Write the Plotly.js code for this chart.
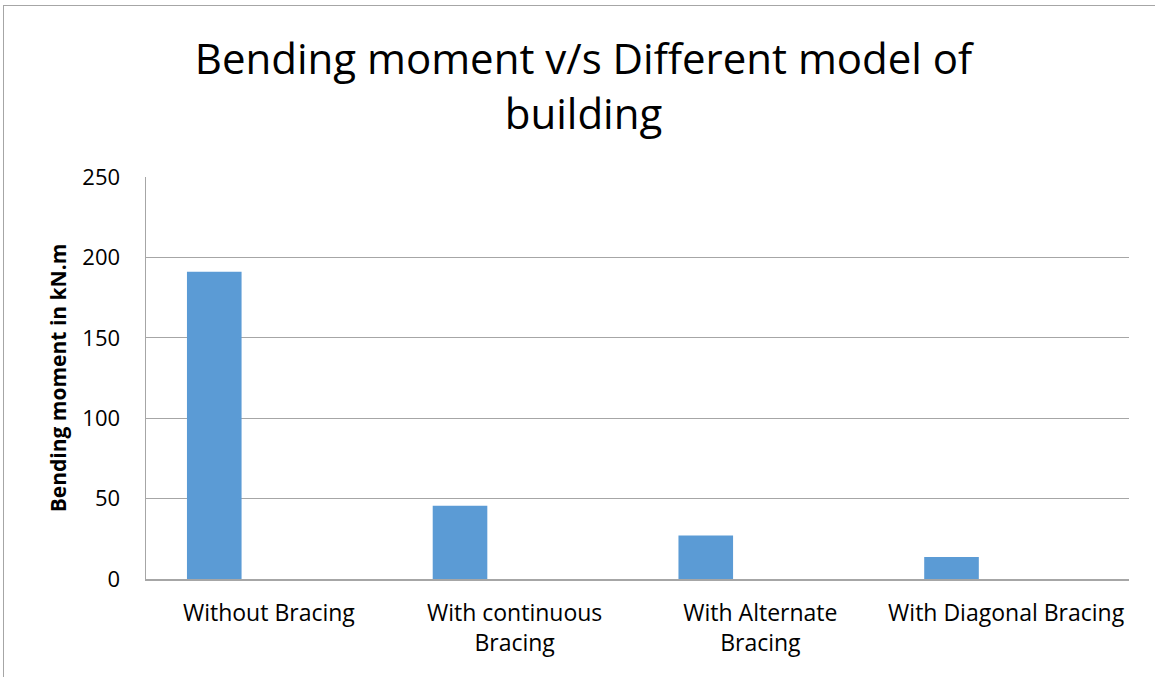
<!DOCTYPE html>
<html>
<head>
<meta charset="utf-8">
<script src="https://cdn.plot.ly/plotly-3.0.1.min.js"></script>
<style>
  html, body { margin: 0; padding: 0; background: #ffffff; }
  #wrap { position: relative; width: 1155px; height: 677px; overflow: hidden; }
  #chart { position: absolute; left: 0; top: 0; width: 1155px; height: 677px; }
  #frame { position: absolute; left: 3px; top: 5px; width: 1160px; height: 680px;
           border-top: 1.5px solid #a6a6a6; border-left: 1.5px solid #a6a6a6; pointer-events: none; }
</style>
</head>
<body>
<div id="wrap">
  <div id="chart"></div>
  <div id="frame"></div>
</div>
<script>
const categories = ['Without Bracing', 'With continuous<br>Bracing', 'With Alternate<br>Bracing', 'With Diagonal Bracing'];
const bendingMoment = [191, 45.5, 27, 13.7];
const yTickValues = [0, 50, 100, 150, 200, 250];

const FONT = 'Open Sans, Noto Sans, sans-serif';

const trace = {
  type: 'bar',
  x: categories,
  y: bendingMoment,
  width: 2/9,
  offset: -1/3,
  marker: { color: '#5b9bd5', line: { width: 0 } },
  hoverinfo: 'x+y'
};

const layout = {
  width: 1155,
  height: 677,
  paper_bgcolor: '#ffffff',
  plot_bgcolor: '#ffffff',
  margin: { l: 146, r: 26, t: 177, b: 98, pad: 0 },
  showlegend: false,
  font: { family: FONT, color: '#000000' },
  title: {
    text: 'Bending moment v/s Different model of<br>building',
    font: { family: FONT, size: 42, color: '#000000' },
    x: 0.5052, xanchor: 'center',
    y: 0.8907, yref: 'container', yanchor: 'middle'
  },
  xaxis: {
    type: 'category',
    range: [-0.5, 3.5],
    showgrid: false,
    showline: true,
    linecolor: '#a6a6a6',
    linewidth: 1.5,
    ticks: 'outside',
    ticklen: 13,
    tickcolor: 'rgba(0,0,0,0)',
    tickfont: { family: FONT, size: 23, color: '#000000' },
    fixedrange: true
  },
  yaxis: {
    range: [0, 250],
    tickvals: yTickValues,
    ticktext: yTickValues.map(String),
    showgrid: true,
    gridcolor: '#a6a6a6',
    gridwidth: 1,
    zeroline: false,
    showline: true,
    linecolor: '#a6a6a6',
    linewidth: 1.5,
    ticks: 'outside',
    ticklen: 20,
    tickcolor: 'rgba(0,0,0,0)',
    tickfont: { family: FONT, size: 22, color: '#000000' },
    title: {
      text: '<b>Bending moment in kN.m</b>',
      font: { family: FONT, size: 21, color: '#000000' },
      standoff: 10
    },
    fixedrange: true
  }
};

Plotly.newPlot('chart', [trace], layout, { displayModeBar: false, staticPlot: true });
</script>
</body>
</html>
